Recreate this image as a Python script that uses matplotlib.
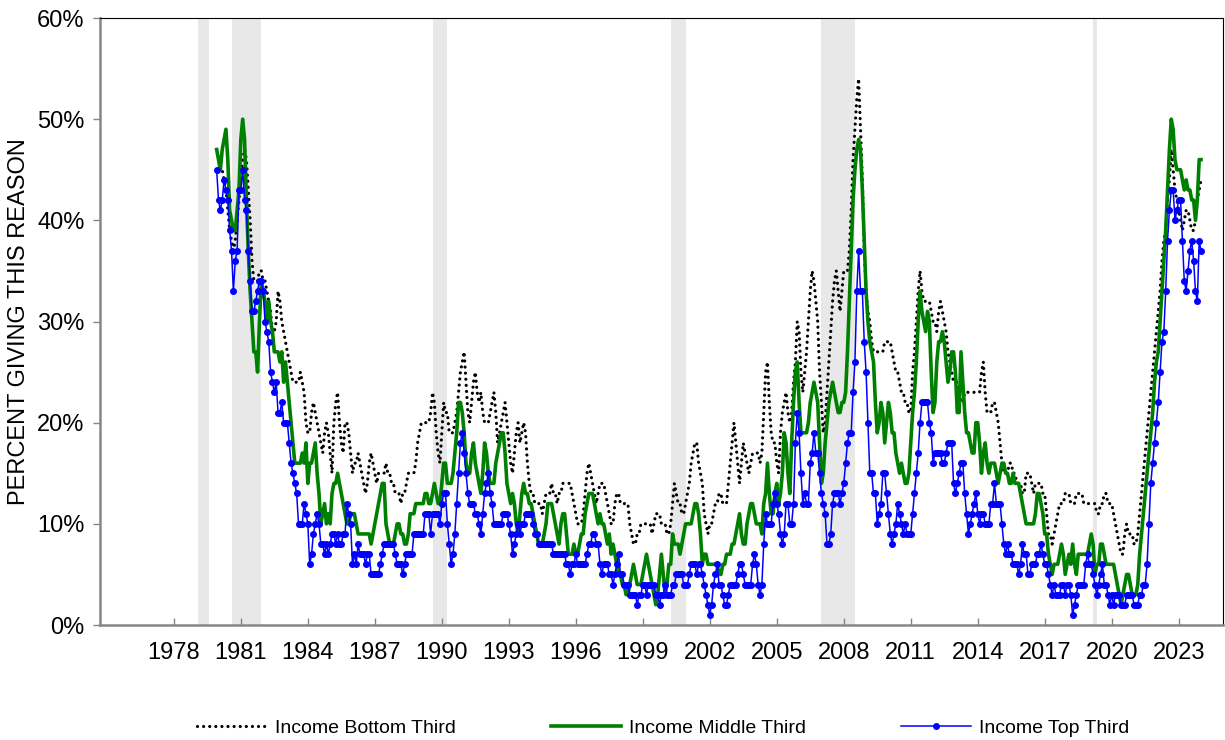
import numpy as np
import matplotlib
matplotlib.use('Agg')
import matplotlib.pyplot as plt
from matplotlib.ticker import FuncFormatter

plt.rcParams['font.family'] = ['Liberation Sans', 'DejaVu Sans']

# monthly readings, first month is Nov 1980
first_month = '1980-11'

bottom_third = [
    47, 46, 45, 45, 44, 43, 41, 39, 38, 37, 38, 40, 42, 44, 46, 47, 46, 43, 40, 36,
    34, 34, 34, 35, 35, 34, 34, 33, 32, 31, 29, 29, 30, 33, 32, 30, 29, 28, 27, 26,
    25, 24, 24, 24, 24, 25, 24, 23, 20, 19, 19, 21, 22, 21, 20, 19, 18, 17, 19, 20,
    19, 17, 15, 20, 22, 23, 20, 18, 17, 20, 20, 19, 17, 15, 16, 16, 17, 16, 15, 14,
    13, 14, 16, 17, 16, 15, 14, 15, 15, 15, 15, 16, 15, 15, 14, 14, 13, 13, 13, 12,
    13, 13, 14, 15, 15, 15, 15, 16, 18, 19, 20, 20, 20, 20, 20, 21, 23, 22, 19, 17,
    16, 19, 22, 21, 21, 19, 19, 19, 20, 21, 23, 25, 26, 27, 24, 21, 20, 22, 24, 25,
    23, 22, 23, 21, 20, 20, 20, 21, 22, 23, 21, 18, 19, 20, 21, 22, 20, 18, 16, 15,
    17, 19, 20, 18, 19, 20, 19, 16, 14, 13, 13, 12, 12, 12, 12, 11, 12, 13, 13, 13,
    14, 13, 13, 12, 13, 13, 14, 14, 14, 14, 14, 13, 12, 11, 10, 10, 10, 11, 13, 15,
    16, 15, 14, 13, 12, 13, 14, 14, 14, 13, 12, 11, 10, 10, 12, 13, 13, 12, 12, 12,
    12, 12, 10, 9, 8, 8, 9, 9, 10, 10, 10, 10, 10, 10, 9, 10, 11, 11, 11, 10,
    10, 10, 9, 9, 10, 12, 14, 13, 12, 12, 11, 11, 12, 13, 14, 16, 17, 18, 18, 16,
    15, 14, 11, 10, 9, 10, 10, 11, 12, 12, 13, 13, 12, 12, 12, 14, 16, 18, 20, 18,
    16, 14, 16, 18, 17, 16, 15, 16, 17, 17, 17, 17, 16, 17, 21, 25, 26, 22, 19, 18,
    18, 16, 15, 19, 21, 22, 23, 21, 20, 21, 24, 26, 30, 29, 25, 23, 25, 27, 30, 33,
    35, 34, 32, 30, 25, 22, 19, 20, 23, 26, 29, 32, 34, 35, 33, 31, 33, 35, 35, 35,
    37, 41, 46, 49, 52, 54, 49, 44, 37, 33, 31, 30, 28, 27, 27, 27, 27, 27, 27, 28,
    28, 28, 28, 27, 26, 25, 25, 24, 23, 23, 22, 22, 21, 21, 25, 27, 30, 33, 35, 33,
    32, 32, 32, 32, 31, 30, 30, 29, 31, 32, 31, 30, 29, 27, 26, 25, 24, 24, 24, 23,
    22, 22, 23, 23, 23, 23, 23, 23, 23, 23, 23, 25, 26, 23, 21, 21, 21, 22, 22, 21,
    20, 18, 16, 15, 15, 15, 16, 16, 15, 15, 14, 14, 14, 13, 13, 15, 15, 15, 14, 13,
    14, 14, 14, 14, 13, 13, 11, 9, 9, 8, 9, 10, 11, 12, 12, 12, 13, 13, 13, 12,
    12, 12, 13, 13, 13, 13, 12, 12, 12, 12, 12, 12, 12, 11, 11, 12, 12, 13, 13, 12,
    12, 12, 11, 10, 9, 8, 7, 7, 9, 10, 9, 9, 9, 8, 8, 9, 11, 13, 15, 17,
    19, 21, 23, 25, 27, 29, 31, 33, 36, 38, 39, 42, 44, 47, 45, 43, 42, 41, 40, 39,
    40, 41, 41, 40, 39, 39, 40, 42, 43, 44,
]

middle_third = [
    47, 46, 45, 47, 48, 49, 46, 41, 40, 39, 39, 41, 43, 48, 50, 48, 42, 37, 33, 30,
    27, 27, 25, 30, 34, 33, 32, 30, 32, 30, 29, 27, 27, 27, 26, 27, 24, 26, 24, 22,
    20, 18, 16, 16, 16, 16, 17, 16, 18, 14, 16, 16, 17, 18, 15, 13, 10, 11, 12, 10,
    11, 10, 13, 14, 14, 15, 14, 13, 12, 11, 10, 10, 11, 11, 11, 10, 9, 9, 9, 9,
    9, 9, 9, 8, 9, 10, 11, 12, 13, 14, 14, 10, 9, 8, 8, 8, 9, 10, 10, 9,
    9, 8, 8, 9, 11, 11, 11, 12, 12, 12, 12, 12, 13, 13, 12, 12, 13, 14, 13, 12,
    12, 14, 16, 16, 14, 14, 14, 15, 17, 19, 22, 22, 21, 19, 16, 15, 15, 17, 18, 16,
    15, 14, 13, 15, 18, 17, 15, 14, 14, 14, 16, 17, 18, 19, 19, 17, 14, 13, 12, 13,
    12, 10, 9, 11, 13, 14, 13, 13, 12, 12, 11, 10, 9, 8, 8, 8, 9, 10, 12, 12,
    12, 11, 10, 9, 8, 10, 11, 11, 9, 7, 7, 7, 8, 7, 7, 8, 9, 9, 11, 12,
    13, 13, 13, 12, 11, 10, 11, 10, 10, 9, 8, 9, 7, 8, 7, 6, 5, 5, 4, 4,
    3, 3, 4, 5, 6, 5, 4, 4, 4, 5, 6, 7, 6, 5, 4, 3, 2, 3, 5, 7,
    5, 3, 4, 6, 6, 9, 8, 8, 8, 7, 8, 9, 10, 10, 10, 10, 11, 12, 12, 11,
    9, 6, 7, 7, 6, 6, 6, 6, 6, 6, 5, 5, 6, 6, 7, 7, 7, 8, 8, 9,
    10, 11, 9, 8, 8, 10, 11, 12, 12, 11, 10, 10, 10, 9, 12, 13, 16, 13, 11, 11,
    13, 14, 12, 13, 15, 19, 18, 15, 13, 18, 22, 25, 26, 22, 19, 19, 19, 19, 20, 22,
    23, 24, 23, 22, 18, 14, 15, 18, 20, 22, 23, 24, 23, 22, 21, 21, 22, 22, 23, 27,
    32, 37, 42, 45, 47, 48, 47, 43, 38, 33, 30, 28, 27, 26, 22, 19, 20, 22, 21, 18,
    20, 22, 21, 19, 19, 17, 16, 15, 16, 15, 14, 14, 15, 18, 21, 23, 26, 30, 33, 31,
    30, 29, 31, 30, 25, 21, 22, 26, 28, 28, 29, 28, 26, 24, 25, 27, 27, 25, 21, 21,
    27, 24, 21, 19, 19, 18, 17, 17, 20, 20, 18, 15, 17, 18, 16, 15, 16, 16, 16, 15,
    14, 15, 16, 16, 15, 15, 14, 14, 15, 14, 14, 14, 13, 12, 11, 10, 10, 10, 10, 10,
    11, 13, 13, 12, 11, 9, 9, 7, 6, 5, 6, 6, 6, 7, 8, 7, 5, 6, 7, 6,
    8, 6, 5, 7, 7, 7, 7, 7, 7, 8, 9, 8, 5, 6, 6, 8, 8, 7, 6, 6,
    6, 6, 6, 5, 4, 3, 2, 3, 4, 5, 5, 4, 3, 3, 3, 4, 7, 9, 11, 13,
    15, 17, 19, 21, 24, 26, 27, 30, 33, 36, 39, 43, 47, 50, 49, 46, 45, 45, 45, 44,
    43, 44, 43, 43, 42, 42, 40, 42, 46, 46,
]

top_third = [
    45, 42, 41, 42, 44, 43, 42, 39, 37, 33, 36, 37, 43, 43, 45, 42, 41, 37, 34, 31,
    31, 32, 33, 34, 34, 33, 30, 29, 28, 25, 24, 23, 24, 21, 21, 22, 20, 20, 20, 18,
    16, 15, 14, 13, 10, 10, 10, 12, 11, 10, 6, 7, 9, 10, 11, 10, 8, 8, 7, 8,
    7, 8, 9, 9, 8, 9, 8, 8, 9, 9, 12, 11, 10, 6, 7, 6, 8, 7, 7, 7,
    6, 7, 7, 5, 5, 5, 5, 5, 6, 7, 8, 8, 8, 8, 8, 8, 7, 6, 6, 6,
    5, 6, 7, 7, 7, 7, 9, 9, 9, 9, 9, 9, 11, 11, 11, 9, 11, 11, 11, 11,
    10, 12, 13, 13, 10, 8, 6, 7, 9, 12, 15, 18, 19, 17, 15, 13, 12, 12, 12, 11,
    11, 10, 9, 11, 13, 14, 15, 13, 12, 10, 10, 10, 10, 10, 11, 11, 11, 10, 9, 7,
    8, 9, 10, 9, 10, 10, 11, 11, 11, 11, 10, 9, 9, 8, 8, 8, 8, 8, 8, 8,
    8, 7, 7, 7, 7, 7, 7, 7, 6, 6, 5, 6, 6, 7, 6, 6, 6, 6, 6, 7,
    8, 8, 9, 9, 8, 8, 6, 5, 6, 6, 6, 5, 5, 4, 5, 6, 7, 5, 5, 4,
    4, 4, 3, 3, 3, 3, 2, 3, 3, 4, 4, 3, 4, 4, 4, 4, 3, 3, 2, 3,
    3, 4, 3, 3, 3, 4, 4, 5, 5, 5, 5, 4, 4, 4, 5, 6, 6, 6, 5, 6,
    6, 5, 4, 3, 2, 1, 2, 4, 5, 6, 4, 4, 3, 2, 2, 3, 4, 4, 4, 4,
    5, 6, 6, 5, 4, 4, 4, 4, 6, 7, 6, 4, 3, 4, 8, 11, 10, 10, 10, 12,
    13, 12, 11, 9, 8, 9, 12, 12, 10, 10, 12, 18, 21, 19, 15, 12, 13, 12, 12, 16,
    17, 19, 17, 17, 15, 13, 12, 11, 8, 8, 9, 12, 13, 13, 13, 12, 13, 14, 16, 18,
    19, 19, 23, 26, 33, 37, 33, 33, 28, 25, 20, 15, 15, 13, 13, 10, 11, 12, 15, 15,
    13, 11, 9, 8, 9, 10, 12, 11, 10, 9, 10, 9, 9, 9, 11, 13, 15, 17, 20, 22,
    22, 22, 22, 20, 19, 16, 17, 17, 17, 17, 16, 16, 17, 18, 18, 18, 14, 13, 14, 15,
    16, 16, 13, 11, 9, 10, 11, 12, 13, 11, 10, 11, 11, 10, 10, 10, 12, 12, 14, 12,
    12, 12, 10, 8, 7, 8, 7, 7, 6, 6, 6, 5, 6, 8, 7, 7, 5, 5, 6, 6,
    6, 7, 7, 8, 7, 6, 6, 5, 4, 3, 4, 3, 3, 3, 4, 4, 3, 4, 4, 3,
    1, 2, 3, 4, 4, 4, 4, 6, 7, 6, 6, 5, 4, 3, 4, 5, 6, 4, 4, 3,
    2, 3, 2, 3, 3, 3, 2, 2, 2, 3, 3, 3, 3, 2, 2, 2, 3, 3, 4, 4,
    6, 10, 14, 16, 18, 20, 22, 25, 28, 29, 33, 38, 41, 43, 43, 40, 41, 42, 42, 38,
    34, 33, 35, 37, 38, 36, 33, 32, 38, 37,
]

# NBER recessions (first and last month)
recession_start = ['1980-01', '1981-07', '1990-07', '2001-03', '2007-12', '2020-02']
recession_end = ['1980-07', '1982-11', '1991-03', '2001-11', '2009-06', '2020-04']

tick_years = list(range(1978, 2024, 3))
series_names = ['Income Bottom Third', 'Income Middle Third', 'Income Top Third']


def to_year(ym):
    """'YYYY-MM' -> fractional year"""
    y, m = ym.split('-')
    return int(y) + (int(m) - 1) / 12


def month_axis(values):
    return to_year(first_month) + np.arange(len(values)) / 12


fig = plt.figure(figsize=(12.25, 7.4), dpi=100)
ax = fig.add_axes([100 / 1225, 1 - 625 / 740, 1123 / 1225, 607 / 740])

for s, e in zip(recession_start, recession_end):
    ax.axvspan(to_year(s), to_year(e), color='#E8E8E8', lw=0, zorder=0)

ax.plot(month_axis(bottom_third), bottom_third, color='black', lw=2.3,
        ls=(0, (0.01, 1.9)), dash_capstyle='round', label=series_names[0], zorder=2)
ax.plot(month_axis(middle_third), middle_third, color='#008000', lw=2.6,
        label=series_names[1], zorder=3)
ax.plot(month_axis(top_third), top_third, color='#0000FF', lw=1.1, marker='o',
        ms=4, label=series_names[2], zorder=4)

ax.set_xlim(1975.61, 2025.9)
ax.set_ylim(0, 60)
ax.set_yticks(range(0, 61, 10))
ax.yaxis.set_major_formatter(FuncFormatter(lambda v, p: f'{v:.0f}%'))
ax.set_xticks([y + 11 / 12 for y in tick_years])
ax.set_xticklabels([str(y) for y in tick_years])

ax.tick_params(axis='x', direction='in', length=5, width=1, color='#868686',
               pad=12, labelsize=17)
ax.tick_params(axis='y', direction='out', length=5, width=1, color='#868686',
               pad=6, labelsize=17)

for side in ['top', 'right']:
    ax.spines[side].set_color('black')
    ax.spines[side].set_linewidth(0.8)
for side in ['left', 'bottom']:
    ax.spines[side].set_color('#868686')
    ax.spines[side].set_linewidth(1.8)

ax.set_ylabel('PERCENT GIVING THIS REASON', fontsize=17, labelpad=5)

handles, labels = ax.get_legend_handles_labels()
fig.legend(handles, labels, loc='center', bbox_to_anchor=(663 / 1225, 12 / 740),
           ncol=3, frameon=False, fontsize=14, handlelength=3.6,
           handletextpad=0.4, columnspacing=4.9)

plt.savefig('out.png', dpi=100)
plt.close()
